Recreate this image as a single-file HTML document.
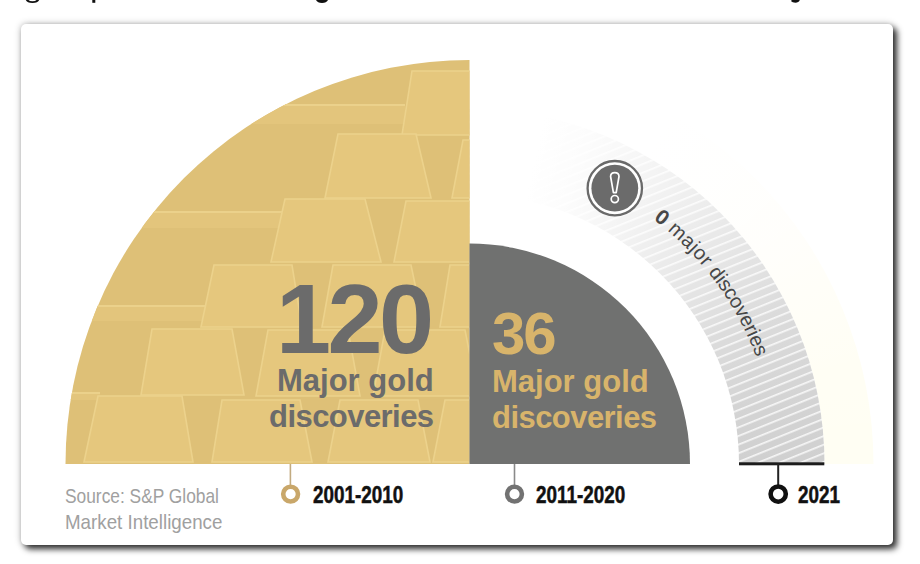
<!DOCTYPE html>
<html><head><meta charset="utf-8">
<style>
html,body{margin:0;padding:0;width:920px;height:564px;overflow:hidden;background:#fff;}
body{position:relative;font-family:"Liberation Sans",sans-serif;}
.card{position:absolute;left:21px;top:24px;width:872px;height:521px;background:#fff;border-radius:5px;
 box-shadow:4px 4px 6px rgba(0,0,0,0.8),0 0 7px rgba(0,0,0,0.28);}
svg{position:absolute;left:0;top:0;}
.t{position:absolute;white-space:nowrap;line-height:1;}
.src{left:65px;font-size:21px;color:#a0a0a0;transform:scaleX(0.84);transform-origin:0 0;}
.lab{top:484px;font-size:23px;font-weight:bold;color:#111;transform:scaleX(0.82);transform-origin:0 0;-webkit-text-stroke:0.5px #111;}
</style></head>
<body>
<div class="card"></div>
<svg width="920" height="20" style="position:absolute;left:0;top:0">
 <path d="M25.8 0 Q27 3 32.5 3 Q38 3 39.2 0 L36.5 0 Q35.5 1.3 32.5 1.3 Q29.5 1.3 28.5 0 Z" fill="#111"/>
 <rect x="92.3" y="0" width="3" height="2.8" fill="#111"/>
 <path d="M316 0 Q317.5 3 322 3 Q326.5 3 328 0 Z" fill="#111"/>
 <path d="M790.8 1 Q793 3.2 797 2.6 Q799.5 1.8 799.8 0 L792 0 Z" fill="#111"/>
</svg>

<div id="pale" style="position:absolute;left:0;top:0;width:920px;height:564px;
 background:conic-gradient(from 0deg at 469.5px 464px, #fff 0deg, #fff 30deg, #fffef8 55deg, #fffef3 75deg, #fffef3 90deg, #fff 90deg);
 clip-path:path('M469.5 60 A404 404 0 0 1 873.5 464 L824.5 464 A355 355 0 0 0 469.5 109 Z');"></div>
<svg width="920" height="564" viewBox="0 0 920 564">
 <defs>
  <pattern id="hatch" patternUnits="userSpaceOnUse" width="8" height="8" patternTransform="rotate(-22)">
   <rect width="8" height="8" fill="#d0d0d0"/>
   <rect y="0" width="8" height="1.7" fill="#f6f6f6"/>
  </pattern>
 </defs>
 <path d="M469.5 464 L469.5 109 A355 355 0 0 1 824.5 464 Z" fill="url(#hatch)"/>
 <path d="M469.5 464 L469.5 194.5 A269.5 269.5 0 0 1 739 464 Z" fill="#fff"/>
</svg>
<div id="fade" style="position:absolute;left:0;top:0;width:920px;height:564px;
 background:conic-gradient(from 0deg at 469.5px 464px, rgba(255,255,255,1) 0deg, rgba(255,255,255,1) 12deg, rgba(255,255,255,0.94) 20deg, rgba(255,255,255,0.8) 30deg, rgba(255,255,255,0.55) 46deg, rgba(255,255,255,0.24) 64deg, rgba(255,255,255,0.07) 80deg, rgba(255,255,255,0) 90deg, rgba(255,255,255,0) 360deg);
 clip-path:path('M469.5 464 L469.5 59 A405 405 0 0 1 874.5 464 Z');"></div>
<svg width="920" height="564" viewBox="0 0 920 564">
 <!-- gold quarter -->
<clipPath id="gclip"><path d="M469.5 464 L65.5 464 A404 404 0 0 1 469.5 60 Z"/></clipPath>
 <path d="M469.5 464 L65.5 464 A404 404 0 0 1 469.5 60 Z" fill="#dec077"/>
 <g clip-path="url(#gclip)">
  <rect x="150" y="104" width="255" height="20" fill="#e3c57c"/>
  <rect x="150" y="104" width="255" height="2" fill="#ebd18b"/>
  <rect x="100" y="211" width="185" height="17" fill="#e3c57c"/>
  <rect x="100" y="211" width="185" height="2" fill="#ebd18b"/>
  <rect x="60" y="305" width="155" height="16" fill="#e3c57c"/>
  <rect x="60" y="305" width="155" height="2" fill="#ebd18b"/>
  <rect x="60" y="392" width="40" height="8" fill="#e3c57c"/>
  <rect x="60" y="392" width="40" height="2" fill="#ebd18b"/>
  <polygon points="412,71 492,71 505,135 402,135" fill="#e5c77d" stroke="#ecd28c" stroke-width="1.6"/>
  <polygon points="338,134 416,134 431,198 325,198" fill="#e5c77d" stroke="#ecd28c" stroke-width="1.6"/>
  <polygon points="463,140 543,140 555,198 452,198" fill="#e5c77d" stroke="#ecd28c" stroke-width="1.6"/>
  <polygon points="285,199 365,199 381,262 271,262" fill="#e5c77d" stroke="#ecd28c" stroke-width="1.6"/>
  <polygon points="406,201 486,201 497,262 394,262" fill="#e5c77d" stroke="#ecd28c" stroke-width="1.6"/>
  <polygon points="214,265 292,265 302,327 201,327" fill="#e5c77d" stroke="#ecd28c" stroke-width="1.6"/>
  <polygon points="333,265 411,265 424,327 322,327" fill="#e5c77d" stroke="#ecd28c" stroke-width="1.6"/>
  <polygon points="450,265 530,265 545,327 440,327" fill="#e5c77d" stroke="#ecd28c" stroke-width="1.6"/>
  <polygon points="152,329 232,329 244,395 141,395" fill="#e5c77d" stroke="#ecd28c" stroke-width="1.6"/>
  <polygon points="268,330 348,330 360,396 256,396" fill="#e5c77d" stroke="#ecd28c" stroke-width="1.6"/>
  <polygon points="385,330 465,330 478,396 373,396" fill="#e5c77d" stroke="#ecd28c" stroke-width="1.6"/>
  <polygon points="98,396 182,396 193,462 84,462" fill="#e5c77d" stroke="#ecd28c" stroke-width="1.6"/>
  <polygon points="222,400 300,400 312,462 212,462" fill="#e5c77d" stroke="#ecd28c" stroke-width="1.6"/>
  <polygon points="340,400 418,400 430,462 328,462" fill="#e5c77d" stroke="#ecd28c" stroke-width="1.6"/>
  <polygon points="445,400 525,400 538,462 433,462" fill="#e5c77d" stroke="#ecd28c" stroke-width="1.6"/>
 </g>
 <!-- gray quarter -->
 <path d="M469.5 464 L469.5 243.5 A220.5 220.5 0 0 1 690 464 Z" fill="#707170"/>
 <!-- baseline black -->
 <rect x="739" y="462.3" width="85.3" height="3" fill="#1c1c1c"/>
 <!-- ticks -->
 <rect x="289.6" y="464" width="1.6" height="21" fill="#c2ab80"/>
 <rect x="513.7" y="464" width="1.6" height="21" fill="#8a8a8a"/>
 <rect x="777.2" y="464" width="2" height="21" fill="#222"/>
 <!-- rings -->
 <circle cx="290.6" cy="494.1" r="7.4" fill="#fff" stroke="#c9a76a" stroke-width="4.6"/>
 <circle cx="514.5" cy="494.1" r="7.4" fill="#fff" stroke="#727272" stroke-width="4.6"/>
 <circle cx="778.2" cy="494.1" r="7.6" fill="#fff" stroke="#111" stroke-width="4.6"/>
 <!-- exclamation icon -->
 <circle cx="614.8" cy="188.2" r="27.2" fill="#fff" stroke="#6a6a6a" stroke-width="2.3"/>
 <circle cx="614.8" cy="188.2" r="23.4" fill="#6b6b6b"/>
 <path d="M610.6 176.5 Q610.6 172.6 614.8 172.6 Q619 172.6 619 176.5 L616.2 192.6 L613.4 192.6 Z" fill="none" stroke="#fff" stroke-width="1.7" stroke-linejoin="round"/>
 <circle cx="614.8" cy="199.1" r="3.6" fill="none" stroke="#fff" stroke-width="1.7"/>
 <!-- curved text -->
 <path id="arc" d="M469.5 158 A306 306 0 0 1 775.5 464" fill="none"/>
 <text font-family="Liberation Sans" font-size="20" fill="#474747"><textPath href="#arc" startOffset="197"><tspan font-weight="bold" font-size="21">0</tspan><tspan letter-spacing="0.5"> major </tspan><tspan letter-spacing="-0.2">discoveries</tspan></textPath></text>
</svg>
<!-- 120 text -->
<div class="t" id="n120" style="left:276px;top:269px;font-size:99px;font-weight:bold;color:#6b6b6b;letter-spacing:-3.6px;">120</div>
<div class="t" id="mg1" style="left:277px;top:365px;font-size:31px;font-weight:bold;color:#6b6b6b;">Major gold</div>
<div class="t" id="dc1" style="left:269px;top:401px;font-size:31px;letter-spacing:-0.55px;font-weight:bold;color:#6b6b6b;">discoveries</div>
<div class="t" id="n36" style="left:492px;top:304px;font-size:60px;letter-spacing:-2px;font-weight:bold;color:#d8b46b;">36</div>
<div class="t" id="mg2" style="left:492px;top:366px;font-size:31px;font-weight:bold;color:#d8b46b;">Major gold</div>
<div class="t" id="dc2" style="left:492px;top:402px;font-size:31px;letter-spacing:-0.55px;font-weight:bold;color:#d8b46b;">discoveries</div>
<div class="t src" id="src1" style="top:485px;transform:scaleX(0.826);">Source: S&amp;P Global</div>
<div class="t src" id="src2" style="top:511px;transform:scaleX(0.893);">Market Intelligence</div>
<div class="t lab" id="l1" style="left:313px;">2001-2010</div>
<div class="t lab" id="l2" style="left:536px;">2011-2020</div>
<div class="t lab" id="l3" style="left:798px;">2021</div>
</body></html>
